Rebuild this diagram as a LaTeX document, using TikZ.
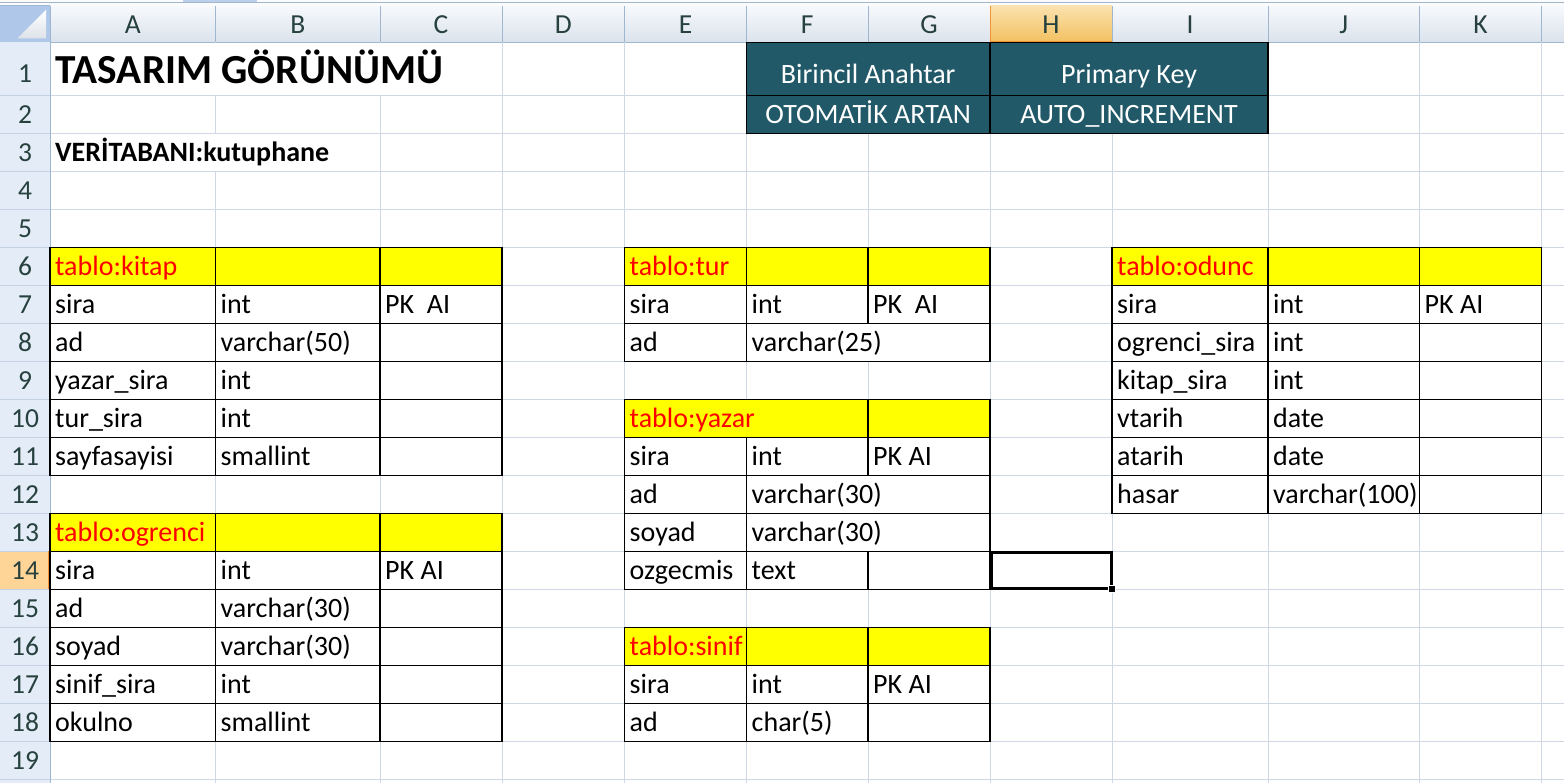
\documentclass[tikz,border=0pt]{standalone}
\usepackage{fontspec}
\setmainfont{Carlito}
\definecolor{grid}{HTML}{D0D7E5}
\definecolor{hdrline}{HTML}{9EB6CE}
\definecolor{hdrtop}{HTML}{F7F9FC}
\definecolor{hdrbot}{HTML}{DAE2EC}
\definecolor{rowhdr}{HTML}{E4ECF7}
\definecolor{rowsep}{HTML}{C5D2E3}
\definecolor{seltop}{HTML}{FBE2AE}
\definecolor{selbot}{HTML}{F2C060}
\definecolor{selline}{HTML}{F29436}
\definecolor{selrow}{HTML}{FFD597}
\definecolor{hdrtext}{HTML}{27413E}
\definecolor{darkteal}{HTML}{215968}
\definecolor{corner}{HTML}{AFC7E8}
\definecolor{cornertri}{HTML}{DDE2E9}
\definecolor{stripline}{HTML}{A3B5CB}
\definecolor{tabhl}{HTML}{BDD0EB}
\tikzset{
  gl/.style={draw=grid, line width=1pt},
  tb/.style={draw=black, line width=1.1pt},
  hl/.style={draw=hdrline, line width=1pt},
  ct/.style={inner sep=0pt, anchor=base west, font=\fontsize{28}{33}\selectfont},
  red/.style={ct, text={rgb,255:red,255;green,0;blue,0}},
  wt/.style={inner sep=0pt, anchor=base, text=white, font=\fontsize{28}{33}\selectfont},
  hd/.style={inner sep=0pt, anchor=base, text=hdrtext, font=\fontsize{27.5}{32}\selectfont},
  yel/.style={fill={rgb,255:red,255;green,255;blue,0}}
}
\newcommand{\T}[4]{\node[ct] (#1) at (#2,#3) {#4};}
\begin{document}
\begin{tikzpicture}[x=1pt,y=-1pt]
\useasboundingbox (0,0) rectangle (1564,783);
\fill[white] (0,0) rectangle (1564,783);
% top strip
\fill[white!94!hdrline] (0,0) rectangle (1564,6);
\fill[tabhl] (183,0) rectangle (257,1.8);
\draw[stripline, line width=0.8pt] (0,2) -- (1564,2);
\draw[hdrline, line width=0.8pt] (0,5.6) -- (1564,5.6);
% column header
\shade[top color=hdrtop, bottom color=hdrbot] (50,6) rectangle (1564,42.3);
\shade[top color=seltop, bottom color=selbot] (990,6) rectangle (1112,42.3);
\foreach \x in {50,215.5,380,502,624.5,746.5,868,1112,1268,1419.5,1541.5}
  \draw[hl] (\x,6) -- (\x,42.3);
\draw[hl] (0,42.3) -- (1564,42.3);
\draw[selline, line width=1pt] (990,6) -- (990,42.3);
\draw[selline, line width=1.6pt] (990,41.8) -- (1112,41.8);
% corner
\fill[corner] (0,6) rectangle (50,42.3);
\shade[top color=white, bottom color=cornertri] (46,10) -- (46,38.5) -- (17.5,38.5) -- cycle;
% row header
\fill[rowhdr] (0,42.3) rectangle (50,783);
\fill[selrow] (0,551.3) rectangle (50,589.3);
\foreach \y in {95.7,133.3,171.3,209.3,247.3,285.3,323.3,361.3,399.3,437.3,475.3,513.3,551.3,589.3,627.3,665.3,703.3,741.3,779.3}
  \draw[rowsep, line width=1pt] (0,\y) -- (50,\y);
\draw[hl] (50,42.3) -- (50,783);
\draw[selline, line width=1.6pt] (49.2,551.3) -- (49.2,589.3);
% grid
\foreach \x in {215.5,380,502,624.5,746.5,868,990,1112,1268,1419.5,1541.5}
  \draw[gl] (\x,42.3) -- (\x,783);
\foreach \y in {95.7,133.3,171.3,209.3,247.3,285.3,323.3,361.3,399.3,437.3,475.3,513.3,551.3,589.3,627.3,665.3,703.3,741.3,779.3}
  \draw[gl] (50.5,\y) -- (1564,\y);
% overflow text hides grid
\fill[white] (50.5,42.8) rectangle (501.5,95.2);
\fill[white] (50.5,133.8) rectangle (379.5,170.8);
% header letters
\foreach \l/\c in {A/132.75,B/297.75,C/441,D/563.25,E/685.5,F/807.25,G/929,H/1051,I/1190,J/1343.75,K/1480.5}
  \node[hd] (col\l) at (\c,33.3) {\l};
% row numbers
\node[hd] (rn1) at (25,82.3) {1};
\node[hd] (rn2) at (25,123.3) {2};
\foreach \r in {3,...,19}
  \node[hd] (rn\r) at (25,{171.3+(\r-3)*38-10}) {\r};
% key block
\fill[darkteal] (746.5,42.3) rectangle (1268,133.3);
\draw[tb] (746.5,42.3) rectangle (1268,133.3);
\draw[tb] (746.5,95.7) -- (1268,95.7);
\draw[tb] (990,42.3) -- (990,133.3);
\node[wt] (pk1) at (868.25,83.5) {Birincil Anahtar};
\node[wt] (pk2) at (1129,83.5) {Primary Key};
\node[wt] (ai1) at (868.25,123.3) {OTOMATİK ARTAN};
\node[wt] (ai2) at (1129,123.3) {AUTO\_INCREMENT};
% titles
\node[inner sep=0pt, anchor=base west, font=\fontsize{41.3}{50}\selectfont\bfseries] (title) at (55.5,83.3) {TASARIM GÖRÜNÜMÜ};
\node[ct, font=\fontsize{28}{33}\selectfont\bfseries] (db) at (55,161.3) {VERİTABANI:kutuphane};
% ---------- kitap ----------
\fill[yel] (50,247.3) rectangle (502,285.3);
\draw[tb] (50,247.3) rectangle (502,475.3);
\foreach \y in {285.3,323.3,361.3,399.3,437.3} \draw[tb] (50,\y) -- (502,\y);
\draw[tb] (215.5,247.3) -- (215.5,475.3);
\draw[tb] (380,247.3) -- (380,475.3);
\node[red] (kh) at (55,275.3) {tablo:kitap};
\T{k1a}{55}{313.3}{sira}\T{k1b}{220.5}{313.3}{int}\T{k1c}{385}{313.3}{PK\ \ AI}
\T{k2a}{55}{351.3}{ad}\T{k2b}{220.5}{351.3}{varchar(50)}
\T{k3a}{55}{389.3}{yazar\_sira}\T{k3b}{220.5}{389.3}{int}
\T{k4a}{55}{427.3}{tur\_sira}\T{k4b}{220.5}{427.3}{int}
\T{k5a}{55}{465.3}{sayfasayisi}\T{k5b}{220.5}{465.3}{smallint}
% ---------- ogrenci ----------
\fill[yel] (50,513.3) rectangle (502,551.3);
\draw[tb] (50,513.3) rectangle (502,741.3);
\foreach \y in {551.3,589.3,627.3,665.3,703.3} \draw[tb] (50,\y) -- (502,\y);
\draw[tb] (215.5,513.3) -- (215.5,741.3);
\draw[tb] (380,513.3) -- (380,741.3);
\node[red] (oh) at (55,541.3) {tablo:ogrenci};
\T{o1a}{55}{579.3}{sira}\T{o1b}{220.5}{579.3}{int}\T{o1c}{385}{579.3}{PK AI}
\T{o2a}{55}{617.3}{ad}\T{o2b}{220.5}{617.3}{varchar(30)}
\T{o3a}{55}{655.3}{soyad}\T{o3b}{220.5}{655.3}{varchar(30)}
\T{o4a}{55}{693.3}{sinif\_sira}\T{o4b}{220.5}{693.3}{int}
\T{o5a}{55}{731.3}{okulno}\T{o5b}{220.5}{731.3}{smallint}
% ---------- tur ----------
\fill[white] (746.5,323.3) rectangle (990,361.3);
\fill[yel] (624.5,247.3) rectangle (990,285.3);
\draw[tb] (624.5,247.3) rectangle (990,361.3);
\foreach \y in {285.3,323.3} \draw[tb] (624.5,\y) -- (990,\y);
\draw[tb] (746.5,247.3) -- (746.5,361.3);
\draw[tb] (868,247.3) -- (868,323.3);
\node[red] (th) at (629.5,275.3) {tablo:tur};
\T{t1a}{629.5}{313.3}{sira}\T{t1b}{751.5}{313.3}{int}\T{t1c}{873}{313.3}{PK\ \ AI}
\T{t2a}{629.5}{351.3}{ad}\T{t2b}{751.5}{351.3}{varchar(25)}
% ---------- yazar ----------
\fill[white] (746.5,475.3) rectangle (990,551.3);
\fill[yel] (624.5,399.3) rectangle (990,437.3);
\draw[tb] (624.5,399.3) rectangle (990,589.3);
\foreach \y in {437.3,475.3,513.3,551.3} \draw[tb] (624.5,\y) -- (990,\y);
\draw[tb] (746.5,437.3) -- (746.5,589.3);
\draw[tb] (868,399.3) -- (868,475.3);
\draw[tb] (868,551.3) -- (868,589.3);
\node[red] (yh) at (629.5,427.3) {tablo:yazar};
\T{y1a}{629.5}{465.3}{sira}\T{y1b}{751.5}{465.3}{int}\T{y1c}{873}{465.3}{PK AI}
\T{y2a}{629.5}{503.3}{ad}\T{y2b}{751.5}{503.3}{varchar(30)}
\T{y3a}{629.5}{541.3}{soyad}\T{y3b}{751.5}{541.3}{varchar(30)}
\T{y4a}{629.5}{579.3}{ozgecmis}\T{y4b}{751.5}{579.3}{text}
% ---------- sinif ----------
\fill[yel] (624.5,627.3) rectangle (990,665.3);
\draw[tb] (624.5,627.3) rectangle (990,741.3);
\foreach \y in {665.3,703.3} \draw[tb] (624.5,\y) -- (990,\y);
\draw[tb] (746.5,627.3) -- (746.5,741.3);
\draw[tb] (868,627.3) -- (868,741.3);
\node[red] (sh) at (629.5,655.3) {tablo:sinif};
\T{s1a}{629.5}{693.3}{sira}\T{s1b}{751.5}{693.3}{int}\T{s1c}{873}{693.3}{PK AI}
\T{s2a}{629.5}{731.3}{ad}\T{s2b}{751.5}{731.3}{char(5)}
% ---------- odunc ----------
\fill[yel] (1112,247.3) rectangle (1541.5,285.3);
\draw[tb] (1112,247.3) rectangle (1541.5,513.3);
\foreach \y in {285.3,323.3,361.3,399.3,437.3,475.3} \draw[tb] (1112,\y) -- (1541.5,\y);
\draw[tb] (1268,247.3) -- (1268,513.3);
\draw[tb] (1419.5,247.3) -- (1419.5,513.3);
\node[red] (dh) at (1117,275.3) {tablo:odunc};
\T{d1a}{1117}{313.3}{sira}\T{d1b}{1273}{313.3}{int}\T{d1c}{1424.5}{313.3}{PK AI}
\T{d2a}{1117}{351.3}{ogrenci\_sira}\T{d2b}{1273}{351.3}{int}
\T{d3a}{1117}{389.3}{kitap\_sira}\T{d3b}{1273}{389.3}{int}
\T{d4a}{1117}{427.3}{vtarih}\T{d4b}{1273}{427.3}{date}
\T{d5a}{1117}{465.3}{atarih}\T{d5b}{1273}{465.3}{date}
\T{d6a}{1117}{503.3}{hasar}\T{d6b}{1273}{503.3}{varchar(100)}
% selected cell H14
\draw[black, line width=3pt] (991.5,552.8) rectangle (1111,588);
\fill[black, draw=white, line width=0.8pt] (1108,585) rectangle (1115,592);
\end{tikzpicture}
\end{document}
